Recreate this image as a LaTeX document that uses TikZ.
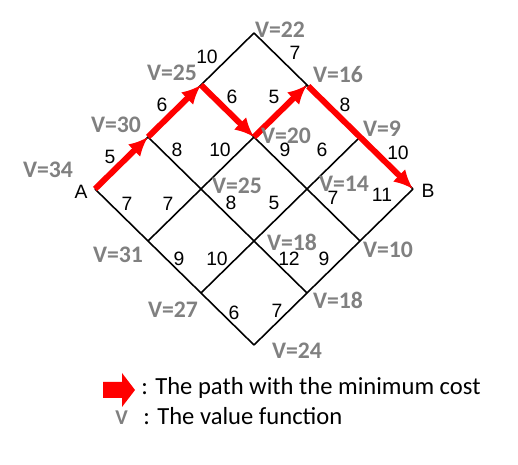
\documentclass[tikz,border=0pt]{standalone}
\usepackage{fontspec}
\setmainfont{Liberation Sans}
\newfontfamily\calibri{Carlito}
\usepackage{tikz}
\usetikzlibrary{arrows.meta}
\definecolor{vgray}{RGB}{128,128,128}
\tikzset{
	gridline/.style={black,line width=0.9pt},
	minpath/.style={red,line width=3.4pt,-{Latex[length=11pt,width=10pt]}},
	vlab/.style={text=vgray,inner sep=0pt,font=\calibri\bfseries\fontsize{13.5}{13.5}\selectfont},
	wlab/.style={inner sep=0pt,font=\fontsize{11}{11}\selectfont},
	leg/.style={inner sep=0pt,anchor=base west,font=\calibri\fontsize{14}{14}\selectfont}
}

\begin{document}
\begin{tikzpicture}[x=0.02cm,y=-0.02cm]
	\useasboundingbox (0,0) rectangle (518,465);
	% vertices of the lattice
	\foreach \i in {0,...,3}
		\foreach \j in {0,...,3}
			\coordinate (n\i\j) at ({95+53*(\i+\j)},{189-52*\i+52*\j});
	\foreach \k in {0,...,3}{
		\draw[gridline] (n\k0) -- (n\k3);
		\draw[gridline] (n0\k) -- (n3\k);
	}

	% the path with the minimum cost
	\draw[minpath] (n00) -- (n10);
	\draw[minpath] (n10) -- (n20);
	\draw[minpath] (n20) -- (n21);
	\draw[minpath] (n21) -- (n31);
	\draw[minpath,shorten <=1pt] (n31) -- (n33);

	\node[wlab] (A) at (81,192) {A};
	\node[wlab] (B) at (428,191) {B};

	% values
	\node[vlab] (v00) at (48,170) {V=34};
	\node[vlab] (v10) at (116,125) {V=30};
	\node[vlab] (v20) at (172,73) {V=25};
	\node[vlab] (v30) at (280,30) {V=22};
	\node[vlab] (v31) at (338,74) {V=16};
	\node[vlab] (v32) at (382,129) {V=9};
	\node[vlab] (v21) at (286,136) {V=20};
	\node[vlab] (v11) at (237,186) {V=25};
	\node[vlab] (v22) at (344,184) {V=14};
	\node[vlab] (v12) at (292,242) {V=18};
	\node[vlab] (v23) at (388,250) {V=10};
	\node[vlab] (v13) at (338,300) {V=18};
	\node[vlab] (v03) at (297,351) {V=24};
	\node[vlab] (v01) at (118,255) {V=31};
	\node[vlab] (v02) at (173,310) {V=27};

	% costs
	\node[wlab] (c0010) at (110,157) {5};
	\node[wlab] (c1020) at (162,105) {6};
	\node[wlab] (c2030) at (207,57) {10};
	\node[wlab] (c2021) at (232,97) {6};
	\node[wlab] (c1011) at (177,150) {8};
	\node[wlab] (c1121) at (220,150) {10};
	\node[wlab] (c3031) at (295,53) {7};
	\node[wlab] (c2131) at (274,97) {5};
	\node[wlab] (c3132) at (345,105) {8};
	\node[wlab] (c2122) at (285,150) {9};
	\node[wlab] (c2232) at (322,150) {6};
	\node[wlab] (c3233) at (398,153) {10};
	\node[wlab] (c2333) at (382,195) {11};
	\node[wlab] (c2223) at (333,198) {7};
	\node[wlab] (c1112) at (231,203) {8};
	\node[wlab] (c1222) at (274,203) {5};
	\node[wlab] (c0001) at (127,204) {7};
	\node[wlab] (c0111) at (168,204) {7};
	\node[wlab] (c0102) at (179,259) {9};
	\node[wlab] (c0212) at (217,259) {10};
	\node[wlab] (c1213) at (289,259) {12};
	\node[wlab] (c1323) at (324,259) {9};
	\node[wlab] (c0203) at (234,313) {6};
	\node[wlab] (c0313) at (277,311) {7};

	% legend
	\fill[red] (103,382) -- (122,382) -- (122,373) -- (135,390) -- (122,407) -- (122,398) -- (103,398) -- cycle;
	\node[leg] (legpath) at (141,395) {: The path with the minimum cost};
	\node[vlab,anchor=base west,font=\calibri\bfseries\fontsize{12}{12}\selectfont] (legv) at (115,425) {V};
	\node[leg] (legval) at (143,425) {: The value function};
\end{tikzpicture}
\end{document}
